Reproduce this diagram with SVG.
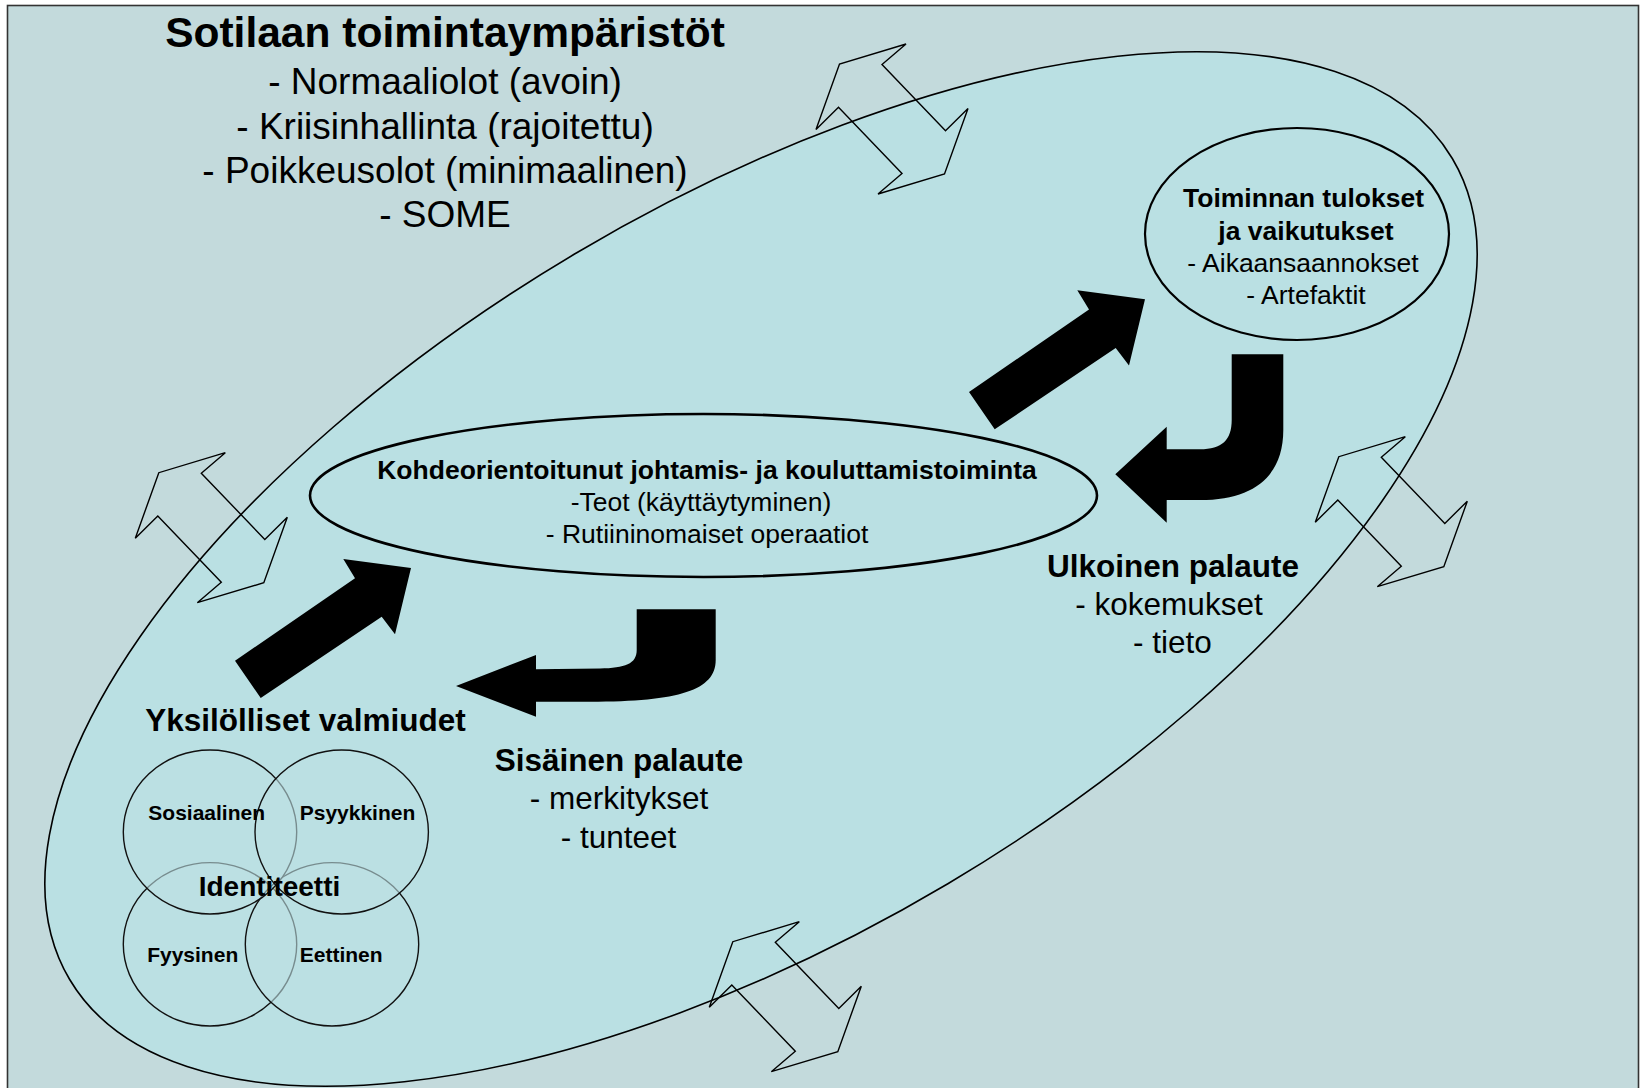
<svg xmlns="http://www.w3.org/2000/svg" xmlns:xlink="http://www.w3.org/1999/xlink" width="1640" height="1088" viewBox="0 0 1640 1088">
<style>
.t{font-family:"Liberation Sans",Arial,"DejaVu Sans",sans-serif;fill:#000;text-anchor:middle}
.b{font-weight:bold}
.out{fill:none;stroke:#000;stroke-width:1.4;stroke-linejoin:miter}
.thick{fill:#000;stroke:none}
.venn{fill:#bcdfe2;fill-opacity:0.6;stroke:#111;stroke-width:1.4}
</style>
<defs>
<polygon id="dbl" points="14,-75 -10,-54.5 53.5,11.7 76,-10.5 52.5,55 -14,75 10,54.5 -53.5,-11.7 -76,10.5 -52.5,-55"/>
<polygon id="thickArrow" points="235,660.7 355,578.3 343.3,559 411,568 395,634.3 381.7,616.7 260.7,698"/>
</defs>
<rect x="0" y="0" width="1640" height="1088" fill="#ffffff"/>
<rect id="frame" x="7.5" y="5.5" width="1631" height="1100" fill="#c3dadc" stroke="#333" stroke-width="1.6"/>
<g id="environment">
<ellipse cx="761" cy="569" rx="804" ry="366" transform="rotate(-30.7 761 569)" fill="#bae0e3" stroke="#000" stroke-width="1.6"/>
</g>
<g id="node-title">
<text class="t b" x="445" y="47" font-size="42.5">Sotilaan toimintaympäristöt</text>
<text class="t" x="445" y="94" font-size="37">- Normaaliolot (avoin)</text>
<text class="t" x="445" y="139" font-size="37">- Kriisinhallinta (rajoitettu)</text>
<text class="t" x="445" y="183" font-size="37">- Poikkeusolot (minimaalinen)</text>
<text class="t" x="445" y="227" font-size="37">- SOME</text>
</g>
<g id="connectors">
<use xlink:href="#dbl" href="#dbl" class="out" transform="translate(892 119)"/>
<use xlink:href="#dbl" href="#dbl" class="out" transform="translate(211.3 527.7)"/>
<use xlink:href="#dbl" href="#dbl" class="out" transform="translate(1391.3 511.7)"/>
<use xlink:href="#dbl" href="#dbl" class="out" transform="translate(785.3 996.7)"/>
<use xlink:href="#thickArrow" href="#thickArrow" class="thick"/>
<use xlink:href="#thickArrow" href="#thickArrow" class="thick" transform="translate(734 -268.7)"/>
<path class="thick" d="M636.7,609.3 L715.7,609.3 L715.7,660 C715.7,690 680,701.7 590,701.7 L536,701.7 L536,716.7 L456,686 L536,655 L536,669.3 L600,668.5 C625,668 636.7,664 636.7,650 Z"/>
<path class="thick" d="M1231.7,354.3 L1283.3,354.3 L1283.3,430 C1283.3,475 1255,500 1200,500 L1166.7,500 L1166.7,522.7 L1115.3,474.3 L1166.7,426.7 L1166.7,449.3 L1200,449.3 C1222,449.3 1231.7,440 1231.7,420 Z"/>
</g>
<g id="node-action">
<ellipse cx="703.5" cy="495.5" rx="393.5" ry="81.5" fill="none" stroke="#000" stroke-width="2.6"/>
<text class="t b" x="707" y="479" font-size="26.5">Kohdeorientoitunut johtamis- ja kouluttamistoiminta</text>
<text class="t" x="701" y="511" font-size="26.5">-Teot (käyttäytyminen)</text>
<text class="t" x="707" y="543" font-size="26.5">- Rutiininomaiset operaatiot</text>
</g>
<g id="node-results">
<ellipse cx="1297" cy="234" rx="152" ry="106" fill="none" stroke="#000" stroke-width="2.2"/>
<text class="t b" x="1303.5" y="207" font-size="26.5">Toiminnan tulokset</text>
<text class="t b" x="1306" y="239.5" font-size="26.5">ja vaikutukset</text>
<text class="t" x="1303" y="272" font-size="26.5">- Aikaansaannokset</text>
<text class="t" x="1306" y="304" font-size="26.5">- Artefaktit</text>
</g>
<g id="node-ulkoinen">
<text class="t b" x="1173" y="577" font-size="31.5">Ulkoinen palaute</text>
<text class="t" x="1169" y="615" font-size="31.5">- kokemukset</text>
<text class="t" x="1172.5" y="653" font-size="31.5">- tieto</text>
</g>
<g id="node-sisainen">
<text class="t b" x="619" y="771" font-size="31.5">Sisäinen palaute</text>
<text class="t" x="619" y="809" font-size="31.5">- merkitykset</text>
<text class="t" x="618.5" y="848" font-size="31.5">- tunteet</text>
</g>
<g id="node-yksilolliset">
<text class="t b" x="305.5" y="731" font-size="31.5">Yksilölliset valmiudet</text>
<ellipse class="venn" cx="210" cy="944.3" rx="86.7" ry="81.7"/>
<ellipse class="venn" cx="332" cy="944.3" rx="86.7" ry="81.7"/>
<ellipse class="venn" cx="210" cy="832" rx="86.7" ry="82"/>
<ellipse class="venn" cx="341.7" cy="832" rx="86.7" ry="82"/>
<text class="t b" x="206.7" y="820" font-size="21">Sosiaalinen</text>
<text class="t b" x="357.5" y="820" font-size="21">Psyykkinen</text>
<text class="t b" x="269.5" y="896" font-size="28">Identiteetti</text>
<text class="t b" x="192.7" y="961.7" font-size="21">Fyysinen</text>
<text class="t b" x="341.2" y="961.7" font-size="21">Eettinen</text>
</g>
</svg>
